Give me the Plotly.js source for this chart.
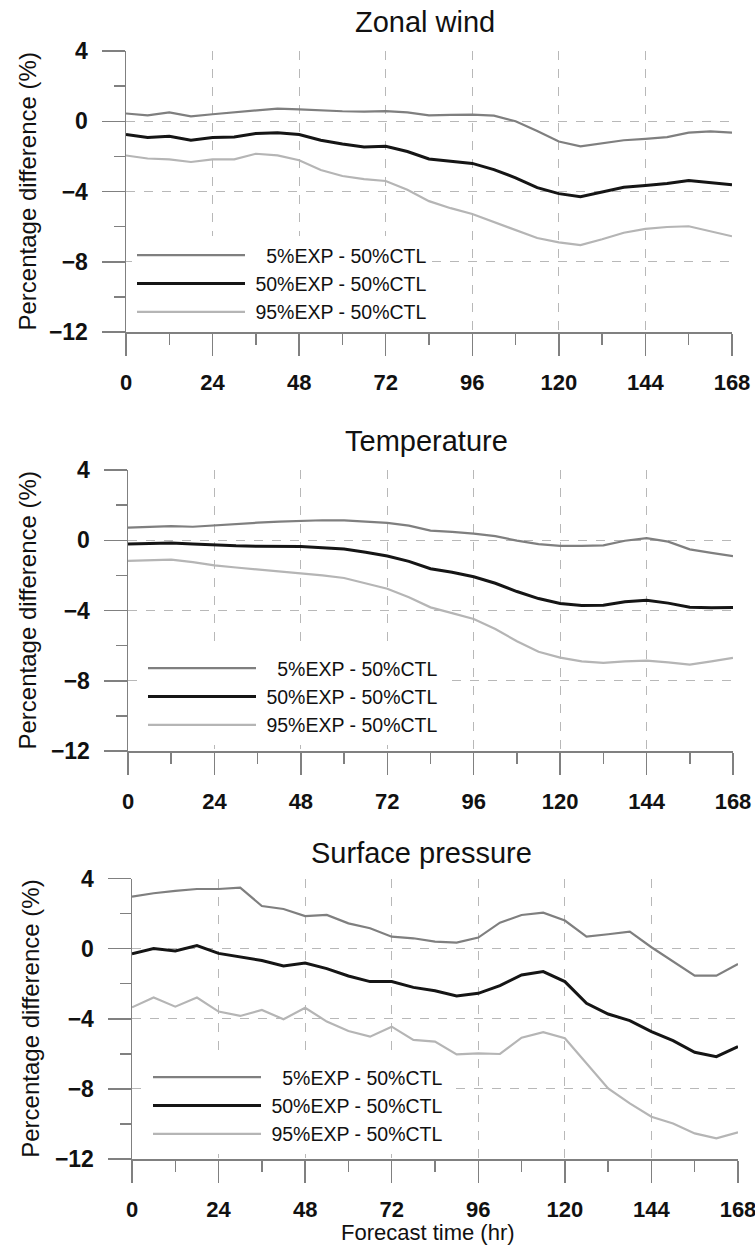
<!DOCTYPE html>
<html>
<head>
<meta charset="utf-8">
<script src="https://cdn.plot.ly/plotly-3.0.1.min.js"></script>
<style>
  html, body { margin: 0; padding: 0; background: #ffffff; }
  #chart { width: 755px; height: 1245px; }
</style>
</head>
<body>
<div id="chart"></div>
<script>
// ---------- data ----------
const hours = [0, 6, 12, 18, 24, 30, 36, 42, 48, 54, 60, 66, 72, 78, 84, 90, 96, 102, 108, 114, 120, 126, 132, 138, 144, 150, 156, 162, 168];
const xTickVals = [0, 24, 48, 72, 96, 120, 144, 168];
const yTickVals = [4, 0, -4, -8, -12];

const panelTitles = ['Zonal wind', 'Temperature', 'Surface pressure'];
const seriesNames = ['\u00a0\u00a0\u00a05%EXP - 50%CTL', '\u00a050%EXP - 50%CTL', '\u00a095%EXP - 50%CTL'];
const yTitle = 'Percentage difference (%)';
const xTitle = 'Forecast time (hr)';

const zonal5  = [0.44, 0.34, 0.50, 0.28, 0.40, 0.50, 0.62, 0.72, 0.68, 0.62, 0.57, 0.55, 0.58, 0.50, 0.34, 0.36, 0.38, 0.32, 0.00, -0.55, -1.15, -1.43, -1.25, -1.08, -1.00, -0.90, -0.65, -0.58, -0.65];
const zonal50 = [-0.76, -0.92, -0.85, -1.08, -0.93, -0.90, -0.70, -0.65, -0.76, -1.08, -1.30, -1.47, -1.43, -1.72, -2.15, -2.28, -2.40, -2.75, -3.22, -3.78, -4.12, -4.30, -4.02, -3.76, -3.66, -3.55, -3.38, -3.52, -3.62];
const zonal95 = [-1.95, -2.12, -2.17, -2.32, -2.17, -2.17, -1.85, -1.94, -2.22, -2.78, -3.12, -3.30, -3.40, -3.90, -4.55, -4.95, -5.28, -5.75, -6.22, -6.65, -6.90, -7.05, -6.72, -6.35, -6.13, -6.02, -5.98, -6.25, -6.55];

const temp5  = [0.72, 0.78, 0.80, 0.77, 0.86, 0.93, 1.00, 1.06, 1.12, 1.14, 1.13, 1.05, 0.99, 0.83, 0.55, 0.48, 0.38, 0.23, -0.02, -0.22, -0.32, -0.32, -0.29, -0.03, 0.12, -0.08, -0.52, -0.72, -0.90];
const temp50 = [-0.21, -0.18, -0.15, -0.22, -0.28, -0.32, -0.34, -0.34, -0.35, -0.42, -0.50, -0.68, -0.90, -1.20, -1.62, -1.82, -2.08, -2.45, -2.92, -3.32, -3.60, -3.71, -3.70, -3.50, -3.42, -3.58, -3.82, -3.84, -3.83];
const temp95 = [-1.18, -1.12, -1.10, -1.25, -1.43, -1.55, -1.66, -1.75, -1.85, -2.00, -2.15, -2.45, -2.76, -3.25, -3.82, -4.15, -4.48, -5.05, -5.75, -6.35, -6.68, -6.90, -6.98, -6.90, -6.85, -6.95, -7.08, -6.90, -6.70];

const sp5  = [2.97, 3.16, 3.29, 3.40, 3.40, 3.48, 2.43, 2.26, 1.86, 1.92, 1.44, 1.16, 0.68, 0.59, 0.40, 0.34, 0.63, 1.48, 1.92, 2.05, 1.60, 0.68, 0.82, 0.97, 0.08, -0.74, -1.54, -1.54, -0.87];
const sp50 = [-0.30, 0.00, -0.13, 0.17, -0.27, -0.46, -0.68, -0.99, -0.82, -1.14, -1.56, -1.88, -1.88, -2.21, -2.40, -2.70, -2.55, -2.11, -1.50, -1.31, -1.88, -3.12, -3.73, -4.11, -4.73, -5.25, -5.91, -6.16, -5.59];
const sp95 = [-3.35, -2.79, -3.31, -2.79, -3.59, -3.84, -3.50, -4.03, -3.37, -4.16, -4.70, -5.02, -4.45, -5.21, -5.30, -6.03, -5.97, -6.01, -5.08, -4.77, -5.11, -6.54, -7.97, -8.83, -9.59, -9.97, -10.54, -10.82, -10.48];

const panelSeries = [[zonal5, zonal50, zonal95], [temp5, temp50, temp95], [sp5, sp50, sp95]];

// ---------- styling / layout ----------
const W = 755, H = 1245;
const px = v => v / W;
const py = v => 1 - v / H;

const lineColors = ['#7f7f7f', '#151515', '#b5b5b5'];
const lineWidths = [2.2, 3, 2.2];

// plot boxes in pixels: left, right, top(value 4), bottom(value -12)
const boxes = [
  {l: 126, r: 732, t: 51, b: 332, titleX: 425, titleY: 22, yTitleX: 27, legX: 132, legY: 236},
  {l: 128, r: 733, t: 470, b: 751, titleX: 426, titleY: 441, yTitleX: 27, legX: 143, legY: 649},
  {l: 132, r: 738, t: 878.5, b: 1159, titleX: 422, titleY: 853, yTitleX: 31, legX: 148, legY: 1058}
];

const tickFontFamily = '"Liberation Sans", Arial, sans-serif';
const textFont = '"Liberation Sans", Arial, sans-serif';
const axisGray = '#808080';

const traces = [];
const layout = {
  width: W, height: H,
  margin: {l: 0, r: 0, t: 0, b: 0},
  paper_bgcolor: '#ffffff',
  plot_bgcolor: '#ffffff',
  showlegend: true,
  annotations: []
};

boxes.forEach((bx, i) => {
  const n = i + 1;
  const xa = n === 1 ? 'x' : 'x' + n;
  const ya = n === 1 ? 'y' : 'y' + n;
  const legName = n === 1 ? 'legend' : 'legend' + n;

  panelSeries[i].forEach((vals, k) => {
    traces.push({
      x: hours, y: vals, type: 'scatter', mode: 'lines',
      name: seriesNames[k],
      line: {color: lineColors[k], width: lineWidths[k]},
      xaxis: xa, yaxis: ya, legend: legName,
      hoverinfo: 'skip'
    });
  });

  layout['xaxis' + (n === 1 ? '' : n)] = {
    domain: [px(bx.l), px(bx.r)],
    anchor: ya,
    range: [0, 168],
    tickvals: xTickVals,
    ticks: 'outside', ticklen: 22, tickwidth: 1.5, tickcolor: axisGray,
    showline: true, linecolor: axisGray, linewidth: 1.5,
    showgrid: true, gridcolor: '#b8b8b8', griddash: 'dash', gridwidth: 1,
    zeroline: false,
    minor: {dtick: 12, tick0: 0, ticks: 'outside', ticklen: 11, tickwidth: 1.5, tickcolor: axisGray, showgrid: false},
    tickfont: {family: tickFontFamily, size: 22, color: '#111111', weight: 'bold'},
    ticklabelstandoff: 8,
    ticklabeloverflow: 'allow',
    fixedrange: true
  };
  layout['yaxis' + (n === 1 ? '' : n)] = {
    domain: [py(bx.b), py(bx.t)],
    anchor: xa,
    range: [-12, 4],
    tickvals: yTickVals,
    ticks: 'outside', ticklen: 23, tickwidth: 1.5, tickcolor: axisGray,
    showline: true, linecolor: axisGray, linewidth: 1.5,
    showgrid: true, gridcolor: '#b8b8b8', griddash: 'dash', gridwidth: 1,
    zeroline: false,
    minor: {dtick: 2, tick0: 0, ticks: 'outside', ticklen: 11, tickwidth: 1.5, tickcolor: axisGray, showgrid: false},
    tickfont: {family: tickFontFamily, size: 23, color: '#111111', weight: 'bold'},
    ticklabelstandoff: 9,
    ticklabeloverflow: 'allow',
    fixedrange: true
  };

  layout[legName] = {
    x: px(bx.legX), y: py(bx.legY), xanchor: 'left', yanchor: 'top',
    bgcolor: '#ffffff', borderwidth: 0,
    font: {family: textFont, size: 19.5, color: '#111111'},
    itemwidth: 108, tracegroupgap: 0, traceorder: 'normal'
  };

  layout.annotations.push({
    text: panelTitles[i], xref: 'paper', yref: 'paper',
    x: px(bx.titleX), y: py(bx.titleY), xanchor: 'center', yanchor: 'middle',
    showarrow: false, borderpad: 0, font: {family: textFont, size: 29, color: '#111111'}
  });
  layout.annotations.push({
    text: yTitle, xref: 'paper', yref: 'paper',
    x: px(bx.yTitleX), y: py((bx.t + bx.b) / 2), xanchor: 'center', yanchor: 'middle',
    textangle: -90, showarrow: false, borderpad: 0, font: {family: textFont, size: 24, color: '#111111'}
  });
});

layout.annotations.push({
  text: xTitle, xref: 'paper', yref: 'paper',
  x: px(428), y: py(1232), xanchor: 'center', yanchor: 'middle',
  showarrow: false, borderpad: 0, font: {family: textFont, size: 22, color: '#111111'}
});

Plotly.newPlot('chart', traces, layout, {staticPlot: true, displayModeBar: false});
</script>
</body>
</html>
